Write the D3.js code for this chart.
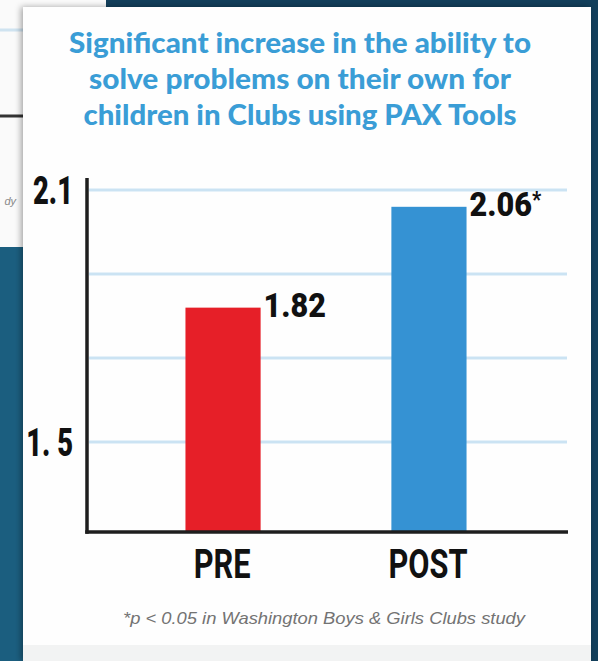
<!DOCTYPE html>
<html>
<head>
<meta charset="utf-8">
<script src="https://cdn.jsdelivr.net/npm/d3@7/dist/d3.min.js"></script>
<style>
  html, body { margin: 0; padding: 0; background: #123f5b; }
  svg { display: block; }
</style>
</head>
<body>
<svg></svg>
<script>
/*------------------------
  ------ VARIABLES -------
  ------------------------*/

// input
var title_lines = ["Significant increase in the ability to",
                   "solve problems on their own for",
                   "children in Clubs using PAX Tools"] ;
var groups = ["PRE", "POST"] ;
var values = [1.82, 2.06] ;
var value_labels = ["1.82", "2.06"] ;
var value_marks = ["", "*"] ;
var grid_values = [2.1, 1.9, 1.7, 1.5] ;
var tick_values = [2.1, 1.5] ;
var tick_labels = ["2.1", "1. 5"] ;
var footnote = "*p < 0.05 in Washington Boys & Girls Clubs study" ;
var y_min = 1.286, y_max = 2.1 ;

// display settings
var W = 598, H = 661 ;
var panel = {x: 23, y: 7, w: 568, h: 654} ;
var title_widths = [462, 422, 433] ;
var colors = {bg: "#123f5b", strip: "#1b5e7f", title: "#3a9dd6",
              grid: "#cbe3f3", axis: "#1e1e1e", bars: ["#e61f28", "#3592d3"]} ;

var svg = d3.select("svg").attr("width", W).attr("height", H) ;

var x = d3.scaleBand().domain(groups).range([86, 566])
          .paddingInner(0.635).paddingOuter(0.483) ;
var y = d3.scaleLinear().domain([y_min, y_max]).range([532, 190]) ;


/*------------------------
  ----- BACKGROUND -------
  ------------------------*/

function display_background() {
    svg.append("rect").attr("width", W).attr("height", H).attr("fill", colors.bg) ;
    svg.append("rect").attr("x", 0).attr("y", 240).attr("width", 24).attr("height", H - 240)
        .attr("fill", colors.strip) ;

    // slide behind, top left
    var back = svg.append("g") ;
    back.append("rect").attr("x", 0).attr("y", 0).attr("width", 106).attr("height", 247)
        .attr("fill", "#fafafa") ;
    back.append("line").attr("x1", 0).attr("x2", 24).attr("y1", 30).attr("y2", 30)
        .attr("stroke", "#cfe3f0").attr("stroke-width", 3) ;
    back.append("line").attr("x1", 0).attr("x2", 24).attr("y1", 116).attr("y2", 116)
        .attr("stroke", "#333").attr("stroke-width", 3) ;
    back.append("text").attr("x", 16).attr("y", 205).attr("text-anchor", "end")
        .attr("font-family", "Liberation Sans, Arial, sans-serif").attr("font-style", "italic")
        .attr("font-size", 11).attr("fill", "#888").text("dy") ;

    var defs = svg.append("defs") ;
    defs.append("filter").attr("id", "shadow").attr("x", "-5%").attr("y", "-5%")
        .attr("width", "110%").attr("height", "110%")
        .append("feDropShadow").attr("dx", -2).attr("dy", 0).attr("stdDeviation", 3)
        .attr("flood-color", "#000").attr("flood-opacity", 0.35) ;

    svg.append("rect").attr("x", panel.x).attr("y", panel.y)
        .attr("width", panel.w).attr("height", panel.h)
        .attr("fill", "#fefefe").attr("filter", "url(#shadow)") ;
    svg.append("rect").attr("x", panel.x).attr("y", 645)
        .attr("width", panel.w).attr("height", H - 645).attr("fill", "#f2f3f3") ;
}


/*------------------------
  -------- CHART ---------
  ------------------------*/

function display_title() {
    svg.append("g").selectAll("text")
        .data(title_lines)
        .enter()
        .append("text")
        .attr("x", 300)
        .attr("y", function(d, i) { return 53 + i*36 ; })
        .attr("text-anchor", "middle")
        .attr("font-family", "Lato, 'Open Sans', sans-serif")
        .attr("font-weight", 900)
        .attr("font-size", 29)
        .attr("textLength", function(d, i) { return title_widths[i] ; })
        .attr("lengthAdjust", "spacingAndGlyphs")
        .attr("fill", colors.title)
        .text(function(d) { return d ; }) ;
}

function display_grid() {
    svg.append("g").selectAll("line")
        .data(grid_values)
        .enter()
        .append("line")
        .attr("x1", 89).attr("x2", 567)
        .attr("y1", y).attr("y2", y)
        .attr("stroke", colors.grid)
        .attr("stroke-width", 3) ;
}

function display_bars() {
    var g = svg.append("g") ;
    g.selectAll("rect")
        .data(groups)
        .enter()
        .append("rect")
        .attr("x", function(d) { return x(d) ; })
        .attr("y", function(d, i) { return y(values[i]) ; })
        .attr("width", x.bandwidth())
        .attr("height", function(d, i) { return y(y_min) - y(values[i]) ; })
        .attr("fill", function(d, i) { return colors.bars[i] ; }) ;

    var lab = g.selectAll("text.val")
        .data(groups)
        .enter()
        .append("text")
        .attr("class", "val")
        .attr("transform", function(d, i) {
            return "translate(" + (x(d) + x.bandwidth() + 3) + "," + (y(values[i]) + 9) + ") scale(0.9,1)" ;
        })
        .attr("font-family", "Roboto, 'Liberation Sans', sans-serif")
        .attr("font-weight", 900)
        .attr("font-size", 34)
        .attr("fill", "#111") ;
    lab.append("tspan").text(function(d, i) { return value_labels[i] ; }) ;
    lab.append("tspan").attr("font-size", 22).attr("dy", -9)
        .text(function(d, i) { return value_marks[i] ; }) ;

    g.selectAll("text.cat")
        .data(groups)
        .enter()
        .append("text")
        .attr("class", "cat")
        .attr("transform", function(d) {
            return "translate(" + (x(d) + x.bandwidth()/2 - 1) + ",578) scale(0.75,1)" ;
        })
        .attr("text-anchor", "middle")
        .attr("font-family", "Roboto, 'Liberation Sans', sans-serif")
        .attr("font-weight", "bold")
        .attr("font-size", 41)
        .attr("fill", "#111")
        .text(function(d) { return d ; }) ;
}

function display_axes() {
    var g = svg.append("g").attr("stroke", colors.axis).attr("stroke-width", 3.5) ;
    g.append("line").attr("x1", 87).attr("x2", 87).attr("y1", 178).attr("y2", y(y_min) + 1.75) ;
    g.append("line").attr("x1", 85.25).attr("x2", 568).attr("y1", y(y_min)).attr("y2", y(y_min)) ;

    svg.append("g").selectAll("text")
        .data(tick_values)
        .enter()
        .append("text")
        .attr("transform", function(d) { return "translate(73," + (y(d) + 14) + ") scale(0.72,1)" ; })
        .attr("text-anchor", "end")
        .attr("font-family", "Roboto, 'Liberation Sans', sans-serif")
        .attr("font-weight", 900)
        .attr("font-size", 38)
        .attr("fill", "#111")
        .text(function(d, i) { return tick_labels[i] ; }) ;
}

function display_footnote() {
    svg.append("text")
        .attr("x", 324).attr("y", 624)
        .attr("text-anchor", "middle")
        .attr("font-family", "'Liberation Sans', Arial, sans-serif")
        .attr("font-style", "italic")
        .attr("font-size", 17)
        .attr("textLength", 402)
        .attr("lengthAdjust", "spacingAndGlyphs")
        .attr("fill", "#737373")
        .text(footnote) ;
}

/*------------------
  ------ RUN -------
  ------------------*/

display_background() ;
display_title() ;
display_grid() ;
display_bars() ;
display_axes() ;
display_footnote() ;
</script>
</body>
</html>
